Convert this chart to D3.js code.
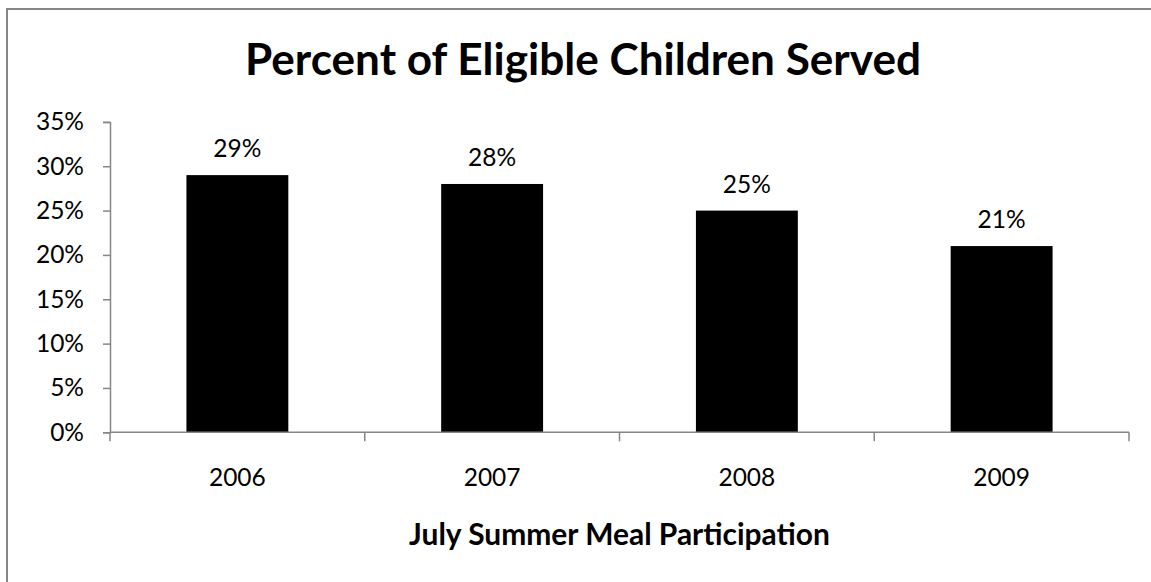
<!DOCTYPE html>
<html><head><meta charset="utf-8">
<script src="https://cdn.jsdelivr.net/npm/d3@7"></script>
<style>body{margin:0;background:#fff}svg{display:block}</style>
</head><body>
<script>
const categories = ["2006", "2007", "2008", "2009"];
const values = [0.29, 0.28, 0.25, 0.21];
const yTicks = [0, 0.05, 0.10, 0.15, 0.20, 0.25, 0.30, 0.35];
const title = "Percent of Eligible Children Served";
const xTitle = "July Summer Meal Participation";

(function () {
const W = 1151, H = 582;
const svg = d3.select("body").append("svg").attr("width", W).attr("height", H);
const font = "Lato, 'Open Sans', sans-serif";
const fs = 24.5;

svg.append("rect").attr("x", 7).attr("y", 9).attr("width", 1160).attr("height", 600)
  .attr("fill", "#fff").attr("stroke", "#868686").attr("stroke-width", 2);

const pLeft = 110, pRight = 1129, pTop = 121.9, pBottom = 432.3;
const x = d3.scaleBand().domain(categories).range([pLeft, pRight]).paddingInner(0.6).paddingOuter(0.3);
const xb = d3.scaleBand().domain(categories).range([pLeft, pRight]);
const y = d3.scaleLinear().domain([0, 0.35]).range([pBottom, pTop]);

function fit(sel, target) {
  const len = sel.node().getComputedTextLength();
  const f = parseFloat(sel.attr("font-size"));
  sel.attr("font-size", f * target / len);
}

const t = svg.append("text").attr("x", 583).attr("y", 75).attr("text-anchor", "middle")
  .attr("font-family", font).attr("font-weight", "bold").attr("font-size", 40).attr("fill", "#000").text(title);
fit(t, 676);

const yAxis = svg.append("g").attr("transform", `translate(${pLeft},0)`)
  .call(d3.axisLeft(y).tickValues(yTicks).tickFormat(d3.format(".0%")).tickSize(7).tickPadding(19));
yAxis.select(".domain").attr("stroke", "#868686").attr("stroke-width", 1.5);
yAxis.selectAll(".tick line").attr("stroke", "#868686").attr("stroke-width", 1.5);
yAxis.selectAll("text").attr("font-family", font).attr("font-size", fs).attr("fill", "#000");

svg.selectAll("rect.bar").data(values).join("rect").attr("class", "bar")
  .attr("x", (d, i) => x(categories[i])).attr("width", x.bandwidth())
  .attr("y", d => y(d)).attr("height", d => y(0) - y(d)).attr("fill", "#000");

svg.selectAll("text.lbl").data(values).join("text").attr("class", "lbl")
  .attr("x", (d, i) => x(categories[i]) + x.bandwidth() / 2).attr("y", d => y(d) - 18)
  .attr("text-anchor", "middle").attr("font-family", font).attr("font-size", fs).attr("fill", "#000")
  .text(d => d3.format(".0%")(d));

const xg = svg.append("g");
xg.append("line").attr("x1", pLeft).attr("x2", pRight).attr("y1", pBottom).attr("y2", pBottom)
  .attr("stroke", "#868686").attr("stroke-width", 1.5);
const bounds = categories.map(c => xb(c)).concat([pRight]);
xg.selectAll("line.tk").data(bounds).join("line").attr("class", "tk")
  .attr("x1", d => d).attr("x2", d => d).attr("y1", pBottom).attr("y2", pBottom + 9)
  .attr("stroke", "#868686").attr("stroke-width", 1.5);
xg.selectAll("text").data(categories).join("text")
  .attr("x", d => xb(d) + xb.bandwidth() / 2).attr("y", 486)
  .attr("text-anchor", "middle").attr("font-family", font).attr("font-size", fs).attr("fill", "#000")
  .text(d => d);

const xt = svg.append("text").attr("x", (pLeft + pRight) / 2).attr("y", 545).attr("text-anchor", "middle")
  .attr("font-family", font).attr("font-weight", "bold").attr("font-size", 24).attr("fill", "#000").text(xTitle);
fit(xt, 421);
})();
</script>
</body></html>
